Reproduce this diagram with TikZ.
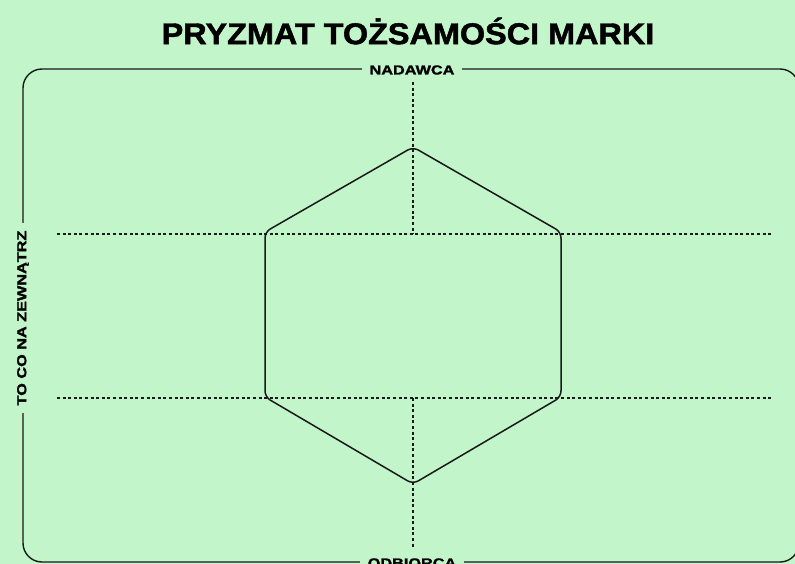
\documentclass[tikz,border=0pt]{standalone}
\usepackage{fontspec}
\setmainfont{Liberation Sans}
\newfontfamily\heavy[FakeBold=1.6]{Liberation Sans Bold}
\definecolor{bg}{RGB}{194,245,201}
\definecolor{ink}{RGB}{25,25,25}
\newcommand{\widetext}[1]{\scalebox{1.25}[1]{#1}}
\tikzset{
  frame/.style={draw=ink, line width=1.4pt, rounded corners=19pt},
  hexline/.style={draw=ink, line width=1.5pt, rounded corners=6pt},
  dots/.style={draw=ink, line width=1.5pt, dash pattern=on 3pt off 2.6pt},
  sidelabel/.style={fill=bg, font=\heavy\fontsize{13}{13}\selectfont, inner xsep=8pt, inner ysep=2pt, text=black},
  titlelabel/.style={font=\heavy\fontsize{30}{30}\selectfont, text=black}
}
\begin{document}
\begin{tikzpicture}[x=1pt,y=-1pt]
\useasboundingbox[fill=bg] (0,0) rectangle (795,564);
\node[titlelabel] (title) at (408,31) {\scalebox{1.08}[1]{PRYZMAT TOŻSAMOŚCI MARKI}};
% frame
\draw[frame] (23,69) rectangle (799,562);
% dotted guides
\coordinate (vt1) at (413,82);
\coordinate (vt2) at (413,234);
\coordinate (vb1) at (413,398);
\coordinate (vb2) at (413,547);
\coordinate (h1a) at (57,234);
\coordinate (h1b) at (771,234);
\coordinate (h2a) at (57,398);
\coordinate (h2b) at (771,398);
\draw[dots] (vt1) -- (vt2);
\draw[dots] (vb1) -- (vb2);
\draw[dots] (h1a) -- (h1b);
\draw[dots] (h2a) -- (h2b);
% hexagon
\coordinate (pt) at (413,147);
\coordinate (pur) at (561,232);
\coordinate (plr) at (561,397);
\coordinate (pb) at (413,484);
\coordinate (pll) at (265,397);
\coordinate (pul) at (265,232);
\draw[hexline] (pt) -- (pur) -- (plr) -- (pb) -- (pll) -- (pul) -- cycle;
% labels on frame
\node[sidelabel] (nadawca) at (412,70) {\widetext{NADAWCA}};
\node[sidelabel] (odbiorca) at (412,563) {\widetext{ODBIORCA}};
\node[sidelabel, rotate=90] (zewn) at (23,318) {\widetext{TO CO NA ZEWNĄTRZ}};
\end{tikzpicture}
\end{document}
